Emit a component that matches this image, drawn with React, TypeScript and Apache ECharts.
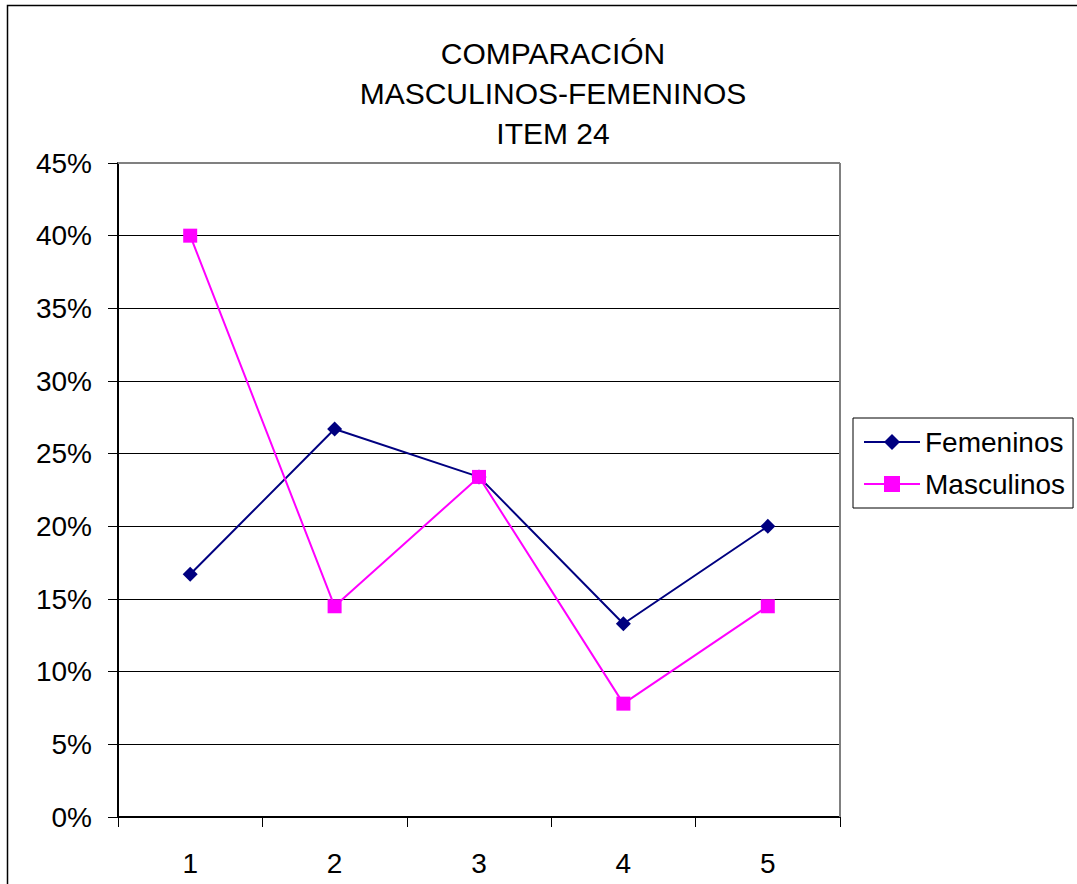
import React, { useEffect, useRef } from "react";
import * as echarts from "echarts";

const categories = ["1", "2", "3", "4", "5"];
const femeninos = [16.7, 26.7, 23.4, 13.3, 20.0];
const masculinos = [40.0, 14.5, 23.4, 7.8, 14.5];
const titleLines = ["COMPARACIÓN", "MASCULINOS-FEMENINOS", "ITEM 24"];

export default function App() {
  const ref = useRef<HTMLDivElement>(null);
  useEffect(() => {
    const chart = echarts.init(ref.current!, null, { renderer: "svg" });
    const font = "Liberation Sans, Arial, sans-serif";
    chart.setOption({
      animation: false,
      backgroundColor: "#ffffff",
      textStyle: { fontFamily: font },
      title: {
        text: titleLines.join("\n"),
        left: 548,
        textAlign: "center",
        top: 28,
        textStyle: {
          fontFamily: font,
          fontSize: 30,
          fontWeight: "normal",
          color: "#000",
          lineHeight: 40,
        },
      },
      graphic: [
        {
          type: "rect",
          shape: { x: 7.5, y: 5.5, width: 1200, height: 1000 },
          style: { fill: "none", stroke: "#000", lineWidth: 1.5 },
          silent: true,
          z: 100,
        },
        {
          type: "line",
          shape: { x1: 118, y1: 163, x2: 840, y2: 163 },
          style: { stroke: "#808080", lineWidth: 2 },
          z: 1,
        },
        {
          type: "line",
          shape: { x1: 840, y1: 163, x2: 840, y2: 817 },
          style: { stroke: "#808080", lineWidth: 2 },
          z: 1,
        },
      ],
      legend: {
        orient: "vertical",
        left: 853,
        top: 418,
        padding: [10, 8, 10, 10],
        itemGap: 14,
        itemWidth: 56,
        itemHeight: 20,
        borderColor: "#000",
        borderWidth: 1,
        lineStyle: { width: 2 },
        textStyle: { fontFamily: font, fontSize: 28, color: "#000" },
        data: ["Femeninos", "Masculinos"],
      },
      grid: { left: 118, top: 163, width: 722, height: 654 },
      xAxis: {
        type: "category",
        data: categories,
        boundaryGap: true,
        axisLine: { lineStyle: { color: "#000", width: 2 } },
        axisTick: { show: true, length: 10, lineStyle: { color: "#000" } },
        axisLabel: { fontSize: 28, color: "#000", margin: 32, fontFamily: font },
        splitLine: { show: false },
      },
      yAxis: {
        type: "value",
        min: 0,
        max: 45,
        interval: 5,
        axisLine: { show: true, lineStyle: { color: "#000", width: 2 } },
        axisTick: { show: true, length: 10, lineStyle: { color: "#000" } },
        axisLabel: {
          fontSize: 28,
          color: "#000",
          margin: 26,
          fontFamily: font,
          formatter: (v: number) => v + "%",
        },
        splitLine: { show: true, lineStyle: { color: "#000", width: 1 } },
      },
      series: [
        {
          name: "Femeninos",
          type: "line",
          data: femeninos,
          symbol: "diamond",
          symbolSize: 15,
          itemStyle: { color: "#000080" },
          lineStyle: { color: "#000080", width: 2 },
          z: 3,
        },
        {
          name: "Masculinos",
          type: "line",
          data: masculinos,
          symbol: "rect",
          symbolSize: 14,
          itemStyle: { color: "#ff00ff" },
          lineStyle: { color: "#ff00ff", width: 2 },
          z: 4,
        },
      ],
    });
    return () => chart.dispose();
  }, []);
  return (
    <div
      ref={ref}
      style={{ position: "fixed", left: 0, top: 0, width: 1077, height: 884 }}
    />
  );
}
